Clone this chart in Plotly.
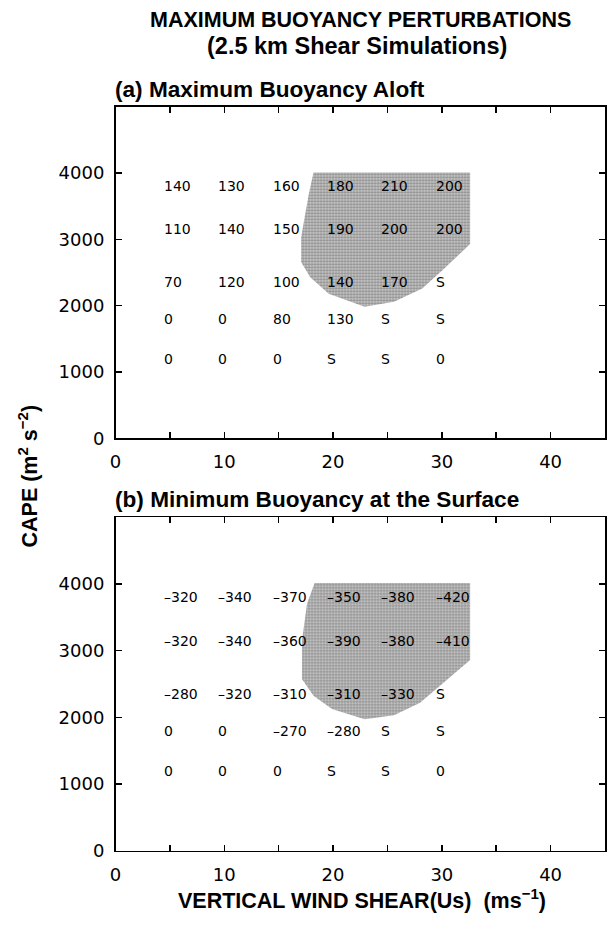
import plotly.graph_objects as go

# ---------------- data ----------------
shear = [5, 10, 15, 20, 25, 30]                 # vertical wind shear (m/s)
cape_rows = [3800, 3150, 2350, 1800, 1200]      # CAPE rows (m2/s2), label positions

buoy_aloft = [
    ["140", "130", "160", "180", "210", "200"],
    ["110", "140", "150", "190", "200", "200"],
    ["70", "120", "100", "140", "170", "S"],
    ["0", "0", "80", "130", "S", "S"],
    ["0", "0", "0", "S", "S", "0"],
]
buoy_surface = [
    ["–320", "–340", "–370", "–350", "–380", "–420"],
    ["–320", "–340", "–360", "–390", "–380", "–410"],
    ["–280", "–320", "–310", "–310", "–330", "S"],
    ["0", "0", "–270", "–280", "S", "S"],
    ["0", "0", "0", "S", "S", "0"],
]

# shaded (stippled) region boundaries
region_a_shear = [18.2, 32.6, 32.6, 30.1, 28.2, 25.6, 22.9, 19.6, 17.9, 17.06, 17.06, 17.75, 18.2]
region_a_cape = [4010, 4010, 2930, 2540, 2260, 2060, 1985, 2180, 2430, 2660, 3030, 3670, 4010]
region_b_shear = [18.3, 32.6, 32.6, 30.1, 28.0, 25.6, 22.9, 19.9, 18.2, 17.15, 17.15, 17.6, 18.3]
region_b_cape = [4015, 4015, 2860, 2520, 2220, 2030, 1970, 2125, 2325, 2570, 3160, 3700, 4015]

x_tickvals = [0, 10, 20, 30, 40]
x_ticktext = ["0", "10", "20", "30", "40"]
x_minorvals = [5, 15, 25, 35]
y_tickvals = [0, 1000, 2000, 3000, 4000]
y_ticktext = ["0", "1000", "2000", "3000", "4000"]

# ---------------- figure ----------------
W, H = 607, 926
FONT = "Liberation Sans"
LAB_FONT = "DejaVu Sans"

def py(pix):   # window pixel -> paper y
    return 1 - pix / H

def px(pix):   # window pixel -> paper x
    return pix / W

fig = go.Figure()

fill_pattern = dict(shape=".", fgcolor="#404040", bgcolor="#d2d2d2", size=3, solidity=0.5)

fig.add_trace(go.Scatter(x=region_a_shear, y=region_a_cape, mode="lines", fill="toself",
                         line=dict(width=0, color="rgba(0,0,0,0)"), fillcolor="#bdbdbd",
                         fillpattern=fill_pattern, xaxis="x", yaxis="y", hoverinfo="skip"))
fig.add_trace(go.Scatter(x=region_b_shear, y=region_b_cape, mode="lines", fill="toself",
                         line=dict(width=0, color="rgba(0,0,0,0)"), fillcolor="#bdbdbd",
                         fillpattern=fill_pattern, xaxis="x2", yaxis="y2", hoverinfo="skip"))

annotations = []
for tbl, xr, yr in [(buoy_aloft, "x", "y"), (buoy_surface, "x2", "y2")]:
    for i, cape in enumerate(cape_rows):
        for j, s in enumerate(shear):
            annotations.append(dict(x=s, y=cape, xref=xr, yref=yr, text=tbl[i][j],
                                    showarrow=False, xanchor="left", yanchor="middle",
                                    xshift=-8, font=dict(family=LAB_FONT, size=14, color="black")))

annotations += [
    dict(x=px(359), y=py(20), xref="paper", yref="paper", text="<b>MAXIMUM BUOYANCY PERTURBATIONS</b>",
         showarrow=False, xanchor="center", yanchor="middle", font=dict(family=FONT, size=21.5, color="black")),
    dict(x=px(356), y=py(46), xref="paper", yref="paper", text="<b>(2.5 km Shear Simulations)</b>",
         showarrow=False, xanchor="center", yanchor="middle", font=dict(family=FONT, size=23.5, color="black")),
    dict(x=px(108), y=py(90), xref="paper", yref="paper", text="<b>(a) Maximum Buoyancy Aloft</b>",
         showarrow=False, xanchor="left", yanchor="middle", font=dict(family=FONT, size=22.6, color="black")),
    dict(x=px(108), y=py(505), xref="paper", yref="paper", text="<b>(b) Minimum Buoyancy at the Surface</b>",
         showarrow=False, xanchor="left", yanchor="middle", font=dict(family=FONT, size=22.6, color="black")),
    dict(x=px(22), y=py(481), xref="paper", yref="paper", text="<b>CAPE (m<sup>2</sup> s<sup>−2</sup>)</b>",
         showarrow=False, xanchor="center", yanchor="middle", textangle=-90,
         font=dict(family=FONT, size=21.5, color="black")),
    dict(x=px(361), y=py(909), xref="paper", yref="paper",
         text="<b>VERTICAL WIND SHEAR(Us)  (ms<sup>−1</sup>)</b>",
         showarrow=False, xanchor="center", yanchor="middle", font=dict(family=FONT, size=21.5, color="black")),
]

xdom = [px(111), 1.0]
ax_common = dict(showline=True, linecolor="black", linewidth=1.5, mirror="ticks",
                 ticks="inside", ticklen=6, tickwidth=1.5, tickcolor="black",
                 showgrid=False, zeroline=False,
                 tickfont=dict(family=LAB_FONT, size=18, color="black"))
x_minor = dict(tickvals=x_minorvals, ticks="inside", ticklen=6, tickwidth=1.5, tickcolor="black", showgrid=False)

fig.update_layout(
    width=W, height=H, margin=dict(l=0, r=0, t=0, b=0),
    plot_bgcolor="white", paper_bgcolor="white", showlegend=False,
    annotations=annotations,
    xaxis=dict(domain=xdom, range=[0, 45], tickvals=x_tickvals, ticktext=x_ticktext, minor=x_minor,
               anchor="y", ticklabelstandoff=7, **ax_common),
    yaxis=dict(domain=[py(443), py(108)], range=[0, 5000], tickvals=y_tickvals, ticktext=y_ticktext,
               anchor="x", ticklabelstandoff=6, **ax_common),
    xaxis2=dict(domain=xdom, range=[0, 45], tickvals=x_tickvals, ticktext=x_ticktext, minor=x_minor,
                anchor="y2", ticklabelstandoff=7, **ax_common),
    yaxis2=dict(domain=[py(860), py(523)], range=[0, 5000], tickvals=y_tickvals, ticktext=y_ticktext,
                anchor="x2", ticklabelstandoff=6, **ax_common),
)

# remove the page's default body margin so the figure fills the window exactly
fig.write_html("out.html", config=dict(displayModeBar=False, staticPlot=True),
               post_script="document.body.style.margin='0';document.body.style.overflow='hidden';")
